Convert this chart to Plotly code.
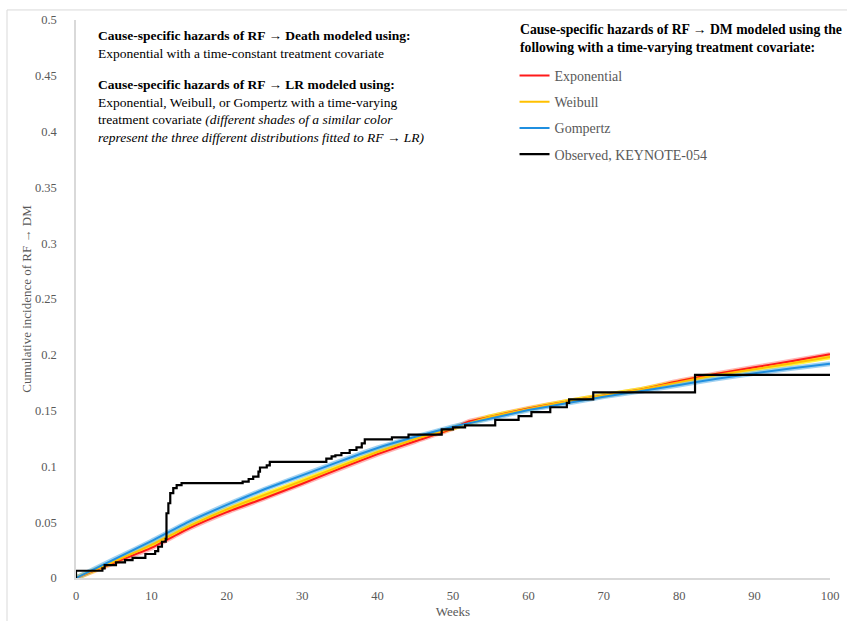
import plotly.graph_objects as go

# Weeks at which the model curves are evaluated
weeks = [0, 5, 10, 15, 20, 25, 30, 35, 40, 45, 50, 52, 55, 60, 65, 70, 75, 80, 85, 90, 95, 100]

# Cumulative incidence of RF -> DM predicted by each RF -> DM distribution
exponential = [0, 0.0135, 0.027, 0.0445, 0.059, 0.0715, 0.0845, 0.098, 0.111, 0.1225, 0.134, 0.140,
               0.1445, 0.152, 0.158, 0.1635, 0.169, 0.1765, 0.183, 0.1888, 0.1945, 0.2004]
weibull = [0, 0.0145, 0.0296, 0.0465, 0.0615, 0.0745, 0.087, 0.100, 0.113, 0.1245, 0.1345, 0.1385,
           0.1445, 0.1515, 0.158, 0.1635, 0.169, 0.1755, 0.182, 0.187, 0.1925, 0.198]
gompertz = [0, 0.0165, 0.033, 0.0505, 0.0655, 0.0795, 0.092, 0.1045, 0.1165, 0.1265, 0.1355, 0.1385,
            0.143, 0.1505, 0.1565, 0.1625, 0.1675, 0.173, 0.1785, 0.1835, 0.188, 0.192]

# Observed KEYNOTE-054 step function (week of each jump, level after the jump)
obs_weeks = [0, 0, 3.5, 3.8, 5.3, 6.5, 7.5, 9.2, 10.5, 10.9, 11.4, 11.9, 12.0, 12.25, 12.5, 12.9,
             13.35, 14.0, 22.1, 22.9, 23.5, 24.2, 24.4, 25.3, 25.7, 33.2, 33.9, 34.4, 35.2, 36.3,
             37.2, 37.9, 38.3, 41.9, 44.1, 48.5, 50.0, 51.6, 55.6, 58.7, 60.4, 62.9, 65.1, 65.4,
             68.6, 82.1, 100]
obs_values = [0, 0.0065, 0.0087, 0.0116, 0.014, 0.016, 0.018, 0.0215, 0.024, 0.028, 0.0325, 0.035,
              0.058, 0.067, 0.076, 0.0806, 0.0833, 0.085, 0.0863, 0.0887, 0.0908, 0.0953, 0.099,
              0.101, 0.104, 0.107, 0.109, 0.110, 0.112, 0.1147, 0.117, 0.1207, 0.1243, 0.126,
              0.1285, 0.1332, 0.135, 0.1368, 0.1416, 0.145, 0.1487, 0.153, 0.157, 0.160, 0.1664,
              0.182, 0.182]

series_names = ["Exponential", "Weibull", "Gompertz"]
series_values = [exponential, weibull, gompertz]
core_colors = ["#FF1A1A", "#FFC000", "#1F8FE0"]
halo_colors = ["rgba(255,120,120,0.55)", "rgba(255,240,0,0.75)", "rgba(120,190,235,0.7)"]

SERIF = "Liberation Serif, Times New Roman, serif"
GREY = "#595959"

fig = go.Figure()

# wide light shade under each model curve
for vals, halo in zip(series_values, halo_colors):
    fig.add_trace(go.Scatter(x=weeks, y=vals, mode="lines", showlegend=False, hoverinfo="skip",
                             line=dict(color=halo, width=5, shape="spline", smoothing=0.4)))

for name, vals, col in zip(series_names, series_values, core_colors):
    fig.add_trace(go.Scatter(x=weeks, y=vals, mode="lines", name=name, legendgroup=name,
                             line=dict(color=col, width=2, shape="spline", smoothing=0.4)))

fig.add_trace(go.Scatter(x=obs_weeks, y=obs_values, mode="lines", name="Observed, KEYNOTE-054",
                         legendgroup="obs", line=dict(color="black", width=2.2, shape="hv")))

fig.update_layout(
    width=847, height=621,
    margin=dict(l=76, r=17, t=20, b=43, autoexpand=False),
    paper_bgcolor="white", plot_bgcolor="white",
    font=dict(family=SERIF, color=GREY, size=13),
    legend=dict(
        x=0.5816, xanchor="left", y=0.9284, yanchor="top",
        font=dict(family=SERIF, color=GREY, size=14),
        tracegroupgap=5, bgcolor="rgba(0,0,0,0)", itemwidth=30,
    ),
    xaxis=dict(range=[0, 100], dtick=10, showgrid=False, zeroline=False,
               showline=True, linecolor="#D9D9D9", linewidth=1.5,
               ticks="", tickfont=dict(family=SERIF, color=GREY, size=12.5),
               ticklabelstandoff=5,
               title=dict(text="Weeks", font=dict(family=SERIF, color=GREY, size=13), standoff=5)),
    yaxis=dict(range=[0, 0.5], dtick=0.05, showgrid=False, zeroline=False,
               showline=True, linecolor="#D9D9D9", linewidth=1.5,
               ticks="", tickfont=dict(family=SERIF, color=GREY, size=12.5),
               ticklabelstandoff=15,
               title=dict(text="Cumulative incidence of RF \u2192 DM",
                          font=dict(family=SERIF, color=GREY, size=13), standoff=0)),
)

# heading of the legend
fig.add_annotation(xref="paper", yref="paper", x=0.5862, y=1.0006, xanchor="left", yanchor="top",
                   align="left", showarrow=False,
                   font=dict(family=SERIF, color="black", size=13.7),
                   text="<b>Cause-specific hazards of RF \u2192 DM modeled using the<br>"
                        "following with a time-varying treatment covariate:</b>")

# explanatory notes in the upper-left corner
fig.add_annotation(xref="paper", yref="paper", x=0.026, y=0.99, xanchor="left", yanchor="top",
                   align="left", showarrow=False,
                   font=dict(family=SERIF, color="black", size=13.5),
                   text="<b>Cause-specific hazards of RF \u2192 Death modeled using:</b><br>"
                        "Exponential with a time-constant treatment covariate")
fig.add_annotation(xref="paper", yref="paper", x=0.026, y=0.902, xanchor="left", yanchor="top",
                   align="left", showarrow=False,
                   font=dict(family=SERIF, color="black", size=13.5),
                   text="<b>Cause-specific hazards of RF \u2192 LR modeled using:</b><br>"
                        "Exponential, Weibull, or Gompertz with a time-varying<br>"
                        "treatment covariate <i>(different shades of a similar color</i><br>"
                        "<i>represent the three different distributions fitted to RF \u2192 LR)</i>")

# thin outer frame of the chart area
fig.add_shape(type="rect", xref="paper", yref="paper", x0=-0.0915, x1=1.2, y0=-0.3, y1=1.018,
              line=dict(color="#D9D9D9", width=1), fillcolor="rgba(0,0,0,0)", layer="below")

fig.write_html("out.html")
